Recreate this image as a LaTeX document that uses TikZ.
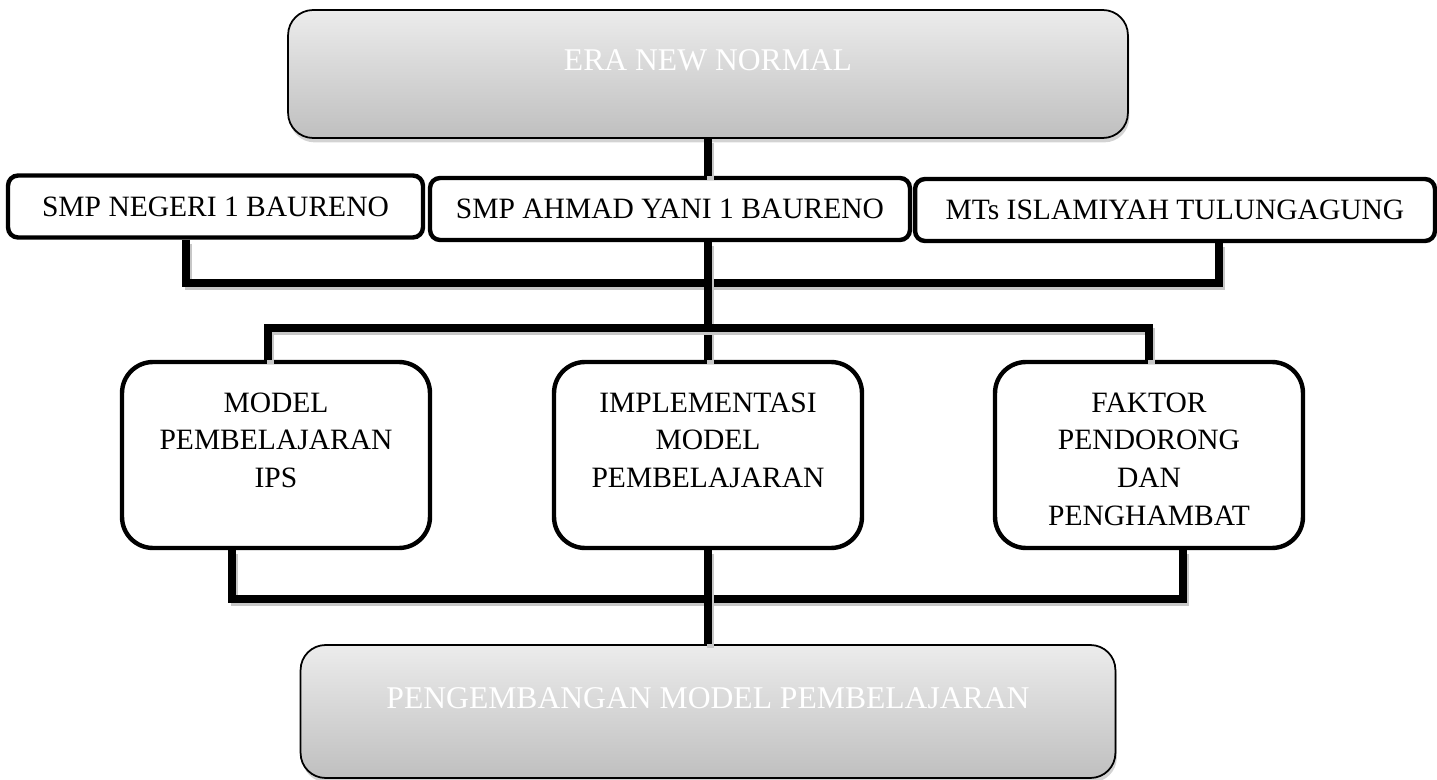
\documentclass[tikz,border=0pt]{standalone}
\usepackage{fontspec}
\setmainfont{Liberation Serif}
\usetikzlibrary{shadows}
\begin{document}
\begin{tikzpicture}[
    x=0.02cm, y=-0.02cm,
    greybox/.style={%
      draw,
      line width=1pt,
      rounded corners=0.5cm,
      top color=gray!15,
      bottom color=gray!50,
      text=white,
      font=\fontsize{18}{22}\selectfont,
      inner ysep=0pt,
      drop shadow={shadow xshift=0.8pt, shadow yshift=-2.5pt, opacity=0.35},
    },
    school/.style={%
      draw,
      line width=2.5pt,
      rounded corners=0.2cm,
      fill=white,
      minimum height=1.24cm,
      font=\fontsize{16.8}{21.6}\selectfont,
    },
    topic/.style={%
      draw,
      line width=2.5pt,
      rounded corners=0.62cm,
      fill=white,
      minimum width=6.16cm,
      text width=5.9cm,
      inner xsep=0pt,
      inner ysep=0pt,
      align=center,
      text height=1.0cm,
      text depth=2.72cm,
      font=\fontsize{16.8}{21.6}\selectfont,
    },
    link/.style={%
      line width=4pt,
      preaction={draw=black!22, line width=4pt, transform canvas={shift={(1.2pt,-2.2pt)}}},
    },
  ]
    \useasboundingbox (0,0) rectangle (1437,780);
    \node [greybox, minimum width=16.8cm, text height=1.21cm, text depth=1.35cm] (era) at (708,74) {ERA NEW NORMAL};
    \path (era) ++(-492.5,132.5) node [school, minimum width=8.3cm] (negeri) {SMP NEGERI 1 BAURENO};
    \path (era) ++(-38,135) node [school, minimum width=9.6cm] (ahmad) {SMP AHMAD YANI 1 BAURENO};
    \path (era) ++(467,136) node [school, minimum width=10.4cm] (mts) {MTs ISLAMIYAH TULUNGAGUNG};
    \path (era) ++(-432,381) node [topic] (model) {MODEL\\PEMBELAJARAN\\IPS};
    \path (era) ++(0,381) node [topic] (impl) {IMPLEMENTASI\\MODEL\\PEMBELAJARAN};
    \path (era) ++(441,381) node [topic] (faktor) {FAKTOR\\PENDORONG\\DAN\\PENGHAMBAT};
    \path (era) ++(0,637.5) node [greybox, minimum width=16.3cm, text height=1.27cm, text depth=1.39cm] (dev) {PENGEMBANGAN MODEL PEMBELAJARAN};
    \path (era) ++(0,209) coordinate (busA);
    \path (era) ++(0,254) coordinate (busB);
    \path (era) ++(0,525) coordinate (busC);
    \draw [link] (era.south) -- (ahmad.north -| era.south);
    \draw [link] ([xshift=-0.59cm]negeri.south) |- (busA) -| ([xshift=0.88cm]mts.south);
    \draw [link] (ahmad.south -| busA) -- (impl.north);
    \draw [link] ([xshift=-0.16cm]model.north) |- (busB) -| (faktor.north);
    \draw [link] ([xshift=-0.88cm]model.south) |- (busC) -| ([xshift=0.68cm]faktor.south);
    \draw [link] (impl.south) -- (dev.north);
\end{tikzpicture}
\end{document}
